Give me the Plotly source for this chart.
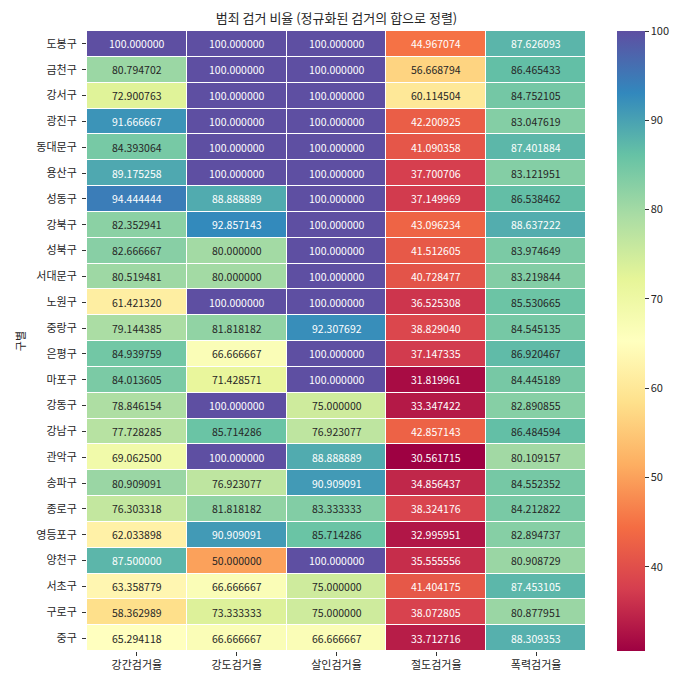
import plotly.graph_objects as go
import plotly.colors as pc

districts = ["도봉구", "금천구", "강서구", "광진구", "동대문구", "용산구", "성동구", "강북구",
             "성북구", "서대문구", "노원구", "중랑구", "은평구", "마포구", "강동구", "강남구",
             "관악구", "송파구", "종로구", "영등포구", "양천구", "서초구", "구로구", "중구"]
columns = ["강간검거율", "강도검거율", "살인검거율", "절도검거율", "폭력검거율"]

rape = [100.000000, 80.794702, 72.900763, 91.666667, 84.393064, 89.175258, 94.444444, 82.352941,
        82.666667, 80.519481, 61.421320, 79.144385, 84.939759, 84.013605, 78.846154, 77.728285,
        69.062500, 80.909091, 76.303318, 62.033898, 87.500000, 63.358779, 58.362989, 65.294118]
robbery = [100.000000, 100.000000, 100.000000, 100.000000, 100.000000, 100.000000, 88.888889, 92.857143,
           80.000000, 80.000000, 100.000000, 81.818182, 66.666667, 71.428571, 100.000000, 85.714286,
           100.000000, 76.923077, 81.818182, 90.909091, 50.000000, 66.666667, 73.333333, 66.666667]
murder = [100.000000, 100.000000, 100.000000, 100.000000, 100.000000, 100.000000, 100.000000, 100.000000,
          100.000000, 100.000000, 100.000000, 92.307692, 100.000000, 100.000000, 75.000000, 76.923077,
          88.888889, 90.909091, 83.333333, 85.714286, 100.000000, 75.000000, 75.000000, 66.666667]
theft = [44.967074, 56.668794, 60.114504, 42.200925, 41.090358, 37.700706, 37.149969, 43.096234,
         41.512605, 40.728477, 36.525308, 38.829040, 37.147335, 31.819961, 33.347422, 42.857143,
         30.561715, 34.856437, 38.324176, 32.995951, 35.555556, 41.404175, 38.072805, 33.712716]
violence = [87.626093, 86.465433, 84.752105, 83.047619, 87.401884, 83.121951, 86.538462, 88.637222,
            83.974649, 83.219844, 85.530665, 84.545135, 86.920467, 84.445189, 82.890855, 86.484594,
            80.109157, 84.552352, 84.212822, 82.894737, 80.908729, 87.453105, 80.877951, 88.309353]

cols_data = [rape, robbery, murder, theft, violence]
z = [[c[i] for c in cols_data] for i in range(len(districts))]
zmin = min(min(c) for c in cols_data)
zmax = max(max(c) for c in cols_data)

spectral = ["#9e0142", "#d53e4f", "#f46d43", "#fdae61", "#fee08b", "#ffffbf",
            "#e6f598", "#abdda4", "#66c2a5", "#3288bd", "#5e4fa2"]
scale = [[i / (len(spectral) - 1), c] for i, c in enumerate(spectral)]


def color_at(v):
    t = (v - zmin) / (zmax - zmin)
    n = len(spectral) - 1
    k = min(int(t * n), n - 1)
    f = t * n - k
    a = pc.hex_to_rgb(spectral[k])
    b = pc.hex_to_rgb(spectral[k + 1])
    return [(float(a[j]) + (float(b[j]) - float(a[j])) * f) / 255.0 for j in range(3)]


def lum(rgb):
    out = []
    for ch in rgb:
        out.append(ch / 12.92 if ch <= 0.03928 else ((ch + 0.055) / 1.055) ** 2.4)
    return 0.2126 * out[0] + 0.7152 * out[1] + 0.0722 * out[2]


fig = go.Figure()
fig.add_trace(go.Heatmap(
    z=z, x=columns, y=districts, zmin=zmin, zmax=zmax,
    colorscale=scale, xgap=1, ygap=1, hoverinfo="skip",
    colorbar=dict(thickness=28, len=1, y=0.5, yanchor="middle", ypad=0,
                  x=1.062, xanchor="left", xpad=0, outlinewidth=0,
                  tickvals=[40, 50, 60, 70, 80, 90, 100], ticks="outside", ticklen=4,
                  tickcolor="#333", tickfont=dict(size=11, color="#262626")),
))

for i, d in enumerate(districts):
    for j, colname in enumerate(columns):
        v = z[i][j]
        txtcol = "#262626" if lum(color_at(v)) > 0.408 else "#ffffff"
        fig.add_annotation(x=colname, y=d, text=f"{v:.6f}", showarrow=False,
                           font=dict(size=10.5, color=txtcol))

fig.update_layout(
    width=684, height=677,
    margin=dict(l=87, r=98, t=31, b=26, autoexpand=False),
    plot_bgcolor="white", paper_bgcolor="white",
    font=dict(family="Noto Sans CJK KR", color="#262626"),
    title=dict(text="범죄 검거 비율 (정규화된 검거의 합으로 정렬)", x=0.5 * (87 + 586) / 684,
               xanchor="center", y=1 - 18 / 677, yanchor="middle",
               font=dict(size=13, color="#262626")),
    xaxis=dict(ticks="outside", ticklen=4, tickcolor="#333", showgrid=False,
               tickfont=dict(size=11), zeroline=False, automargin=False),
    yaxis=dict(autorange="reversed", ticks="outside", ticklen=4, tickcolor="#333",
               showgrid=False, tickfont=dict(size=11), zeroline=False, automargin=False,
               ticklabelstandoff=3,
               title=dict(text="구별", font=dict(size=11), standoff=8)),
)

fig.write_html("out.html", config={"displayModeBar": False},
               post_script="document.body.style.margin='0';document.body.style.overflow='hidden';")
